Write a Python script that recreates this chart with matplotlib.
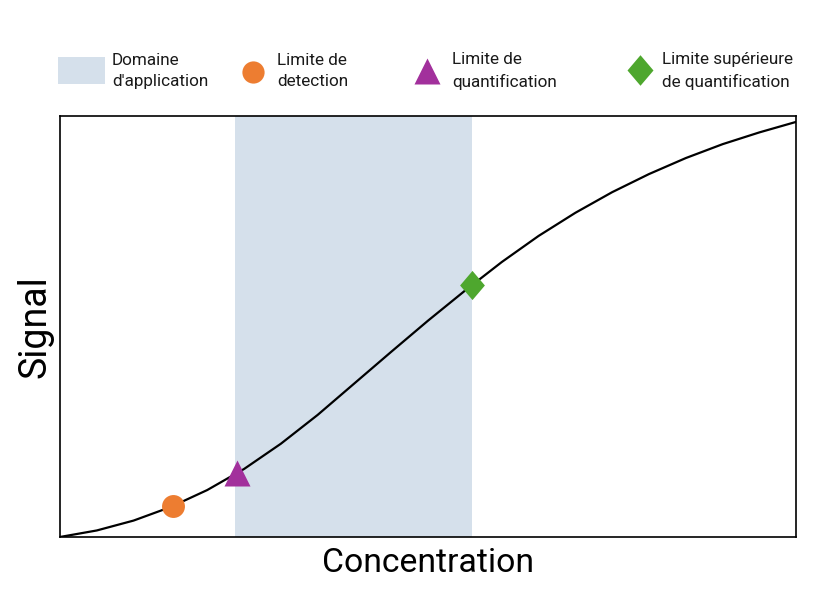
import matplotlib.pyplot as plt
from matplotlib.patches import Rectangle

plt.rcParams['font.family'] = ['Roboto', 'DejaVu Sans']

# courbe de réponse (unités arbitraires 0-100)
concentration = [0, 5, 10, 15, 20, 25, 30, 35, 40, 45, 50,
                 55, 60, 65, 70, 75, 80, 85, 90, 95, 100]
signal = [0, 1.55, 3.9, 7.1, 11.15, 16.15, 22.15, 29.0, 36.5, 44.0, 51.4,
          58.5, 65.3, 71.5, 77.0, 81.9, 86.2, 90.0, 93.3, 96.1, 98.6]

# points caractéristiques
lod = (15.4, 7.4)
loq = (24.0, 15.3)
lsq = (56.0, 59.9)
domaine = (23.8, 56.0)

c_domaine = '#d5e0eb'
c_lod = '#ed7d31'
c_loq = '#a2309c'
c_lsq = '#4ea72e'
diamant = [(0, 1), (0.85, 0), (0, -1), (-0.85, 0)]

fig = plt.figure(figsize=(8.14, 5.91), dpi=100)
ax = fig.add_axes([0.0737, 0.0914, 0.9045, 0.7124])

ax.axvspan(domaine[0], domaine[1], color=c_domaine, lw=0, zorder=0)
ax.plot(concentration, signal, color='black', lw=1.6, zorder=2)
ax.plot(*lod, marker='o', ms=16.5, color=c_lod, mec='none', zorder=3)
ax.plot(*loq, marker='^', ms=18.5, color=c_loq, mec='none', zorder=3)
ax.plot(*lsq, marker=diamant, ms=21, color=c_lsq, mec='none', zorder=3)

ax.set_xlim(0, 100)
ax.set_ylim(0, 100)
ax.set_xticks([])
ax.set_yticks([])
for sp in ax.spines.values():
    sp.set_linewidth(1.2)
ax.set_xlabel('Concentration', fontsize=24.3, labelpad=7)
ax.set_ylabel('Signal', fontsize=27, labelpad=5)

# légende manuelle en haut (coordonnées pixels)
lax = fig.add_axes([0, 0, 1, 1], zorder=-1)
lax.set_xlim(0, 814)
lax.set_ylim(591, 0)
lax.axis('off')
lax.add_patch(Rectangle((58, 57), 47, 27, color=c_domaine, lw=0))
lax.plot(253, 72, marker='o', ms=16, color=c_lod, mec='none')
lax.plot(427, 71, marker='^', ms=19, color=c_loq, mec='none')
lax.plot(640, 70, marker=diamant, ms=22, color=c_lsq, mec='none')

txt = dict(fontsize=12.3, va='center', ha='left', color='#1a1a1a', linespacing=1.55)
lax.text(112, 71, "Domaine\nd'application", **txt)
lax.text(277, 71, "Limite de\ndetection", **txt)
lax.text(452, 71, "Limite de\nquantification", **txt)
lax.text(662, 71, "Limite supérieure\nde quantification", **txt)

fig.savefig('out.png', dpi=100)
